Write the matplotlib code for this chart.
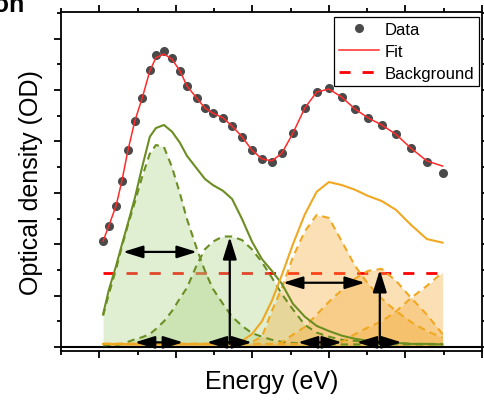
import matplotlib
matplotlib.use("Agg")
import matplotlib.pyplot as plt
from matplotlib.ticker import MultipleLocator, FixedLocator

plt.rcParams['font.family'] = ['Liberation Sans', 'DejaVu Sans']

# photon energy (eV) of each measured point
energy = [1.710, 1.725, 1.744, 1.759, 1.775, 1.793, 1.812, 1.832, 1.848, 1.869,
          1.890, 1.911, 1.929, 1.955, 1.976, 1.997, 2.023, 2.047, 2.073, 2.099,
          2.125, 2.151, 2.177, 2.206, 2.237, 2.268, 2.300, 2.334, 2.368, 2.402,
          2.438, 2.475, 2.514, 2.556, 2.597]

od_data = [0.206, 0.236, 0.275, 0.323, 0.383, 0.440, 0.484, 0.539, 0.568, 0.576,
           0.562, 0.537, 0.508, 0.484, 0.465, 0.455, 0.446, 0.430, 0.409, 0.383,
           0.366, 0.360, 0.377, 0.416, 0.465, 0.496, 0.504, 0.486, 0.463, 0.446,
           0.432, 0.414, 0.387, 0.360, 0.339]

od_fit = [0.206, 0.236, 0.275, 0.323, 0.383, 0.440, 0.484, 0.537, 0.563, 0.570,
          0.560, 0.537, 0.508, 0.484, 0.465, 0.455, 0.446, 0.430, 0.409, 0.383,
          0.366, 0.362, 0.377, 0.416, 0.465, 0.496, 0.502, 0.486, 0.463, 0.446,
          0.432, 0.414, 0.387, 0.362, 0.352]

background = 0.143

# green band: sum and two components
green_sum = [0.064, 0.111, 0.158, 0.199, 0.241, 0.290, 0.350, 0.409, 0.426, 0.432,
             0.419, 0.397, 0.372, 0.347, 0.327, 0.315, 0.304, 0.288, 0.249, 0.205,
             0.171, 0.148, 0.123, 0.084, 0.059, 0.041, 0.031, 0.022, 0.016, 0.012,
             0.010, 0.008, 0.006, 0.006, 0.005]
green_1 = [0.061, 0.103, 0.152, 0.195, 0.238, 0.282, 0.331, 0.376, 0.393, 0.389,
           0.350, 0.298, 0.249, 0.191, 0.148, 0.113, 0.084, 0.059, 0.041, 0.027,
           0.020, 0.014, 0.010, 0.008, 0.006, 0.005, 0.005, 0.005, 0.005, 0.005,
           0.005, 0.005, 0.005, 0.005, 0.005]
green_2 = [0.003, 0.004, 0.004, 0.006, 0.010, 0.015, 0.019, 0.025, 0.035, 0.050,
           0.070, 0.095, 0.115, 0.160, 0.190, 0.205, 0.215, 0.215, 0.208, 0.190,
           0.165, 0.135, 0.103, 0.073, 0.043, 0.028, 0.020, 0.014, 0.012, 0.010,
           0.008, 0.008, 0.006, 0.006, 0.006]

# orange band: sum and three components
orange_sum = [0.006, 0.006, 0.006, 0.006, 0.006, 0.006, 0.006, 0.006, 0.006, 0.006,
              0.006, 0.006, 0.006, 0.006, 0.006, 0.006, 0.006, 0.007, 0.012, 0.025,
              0.050, 0.090, 0.140, 0.200, 0.258, 0.302, 0.321, 0.315, 0.306, 0.294,
              0.284, 0.267, 0.238, 0.210, 0.203]
orange_1 = [0.006, 0.006, 0.006, 0.006, 0.006, 0.006, 0.006, 0.006, 0.006, 0.006,
            0.006, 0.006, 0.006, 0.006, 0.006, 0.006, 0.006, 0.006, 0.007, 0.010,
            0.020, 0.070, 0.115, 0.175, 0.225, 0.257, 0.251, 0.205, 0.158, 0.123,
            0.094, 0.070, 0.049, 0.031, 0.018]
orange_2 = [0.006, 0.006, 0.006, 0.006, 0.006, 0.006, 0.006, 0.006, 0.006, 0.006,
            0.006, 0.006, 0.006, 0.006, 0.006, 0.006, 0.006, 0.006, 0.006, 0.006,
            0.006, 0.006, 0.009, 0.024, 0.039, 0.063, 0.088, 0.111, 0.133, 0.148,
            0.152, 0.129, 0.096, 0.063, 0.025]
orange_3 = [0.006, 0.006, 0.006, 0.006, 0.006, 0.006, 0.006, 0.006, 0.006, 0.006,
            0.006, 0.006, 0.006, 0.006, 0.006, 0.006, 0.006, 0.006, 0.006, 0.006,
            0.006, 0.006, 0.006, 0.006, 0.006, 0.006, 0.006, 0.010, 0.025, 0.038,
            0.050, 0.069, 0.095, 0.119, 0.145]

# FWHM arrows (height, start, end), amplitude arrows (position, peak), shift arrows
fwhm_y = [0.185, 0.125]
fwhm_x0 = [1.762, 2.180]
fwhm_x1 = [1.955, 2.394]
amp_x = [2.041, 2.433]
amp_top = [0.214, 0.150]
shift_y = 0.009
shift_x0 = [1.793, 1.981, 2.219, 2.373]
shift_x1 = [1.919, 2.099, 2.334, 2.490]

green_line = '#6b8e23'
green_fill = '#a8cf7e'
orange_line = '#f0a822'
orange_fill = '#f5b041'

fig = plt.figure(figsize=(4.85, 4.02), dpi=100)
ax = fig.add_axes([61 / 485, 50 / 402, 421 / 485, 339 / 402])

ax.plot([energy[0], energy[-1]], [background, background], color='#ff0000',
        lw=2, ls=(0, (4, 4.3)), zorder=1, label='Background')

for comp in [green_1, green_2]:
    ax.fill_between(energy, 0, comp, color=green_fill, alpha=0.35, lw=0, zorder=2)
for comp in [orange_1, orange_2, orange_3]:
    ax.fill_between(energy, 0, comp, color=orange_fill, alpha=0.38, lw=0, zorder=2)

ax.axhline(0, color='k', lw=1.5, zorder=2.5)

dash = (0, (3.5, 2.5))
for comp in [green_1, green_2]:
    ax.plot(energy, comp, color=green_line, lw=1.5, ls=dash, zorder=3)
for comp in [orange_1, orange_2, orange_3]:
    ax.plot(energy, comp, color=orange_line, lw=1.5, ls=dash, zorder=3)
ax.plot(energy, green_sum, color=green_line, lw=1.5, zorder=3)
ax.plot(energy, orange_sum, color=orange_line, lw=1.5, zorder=3)

ax.plot(energy, od_data, 'o', color='#4a4a4a', ms=5.5, zorder=4, label='Data')
ax.plot(energy, od_fit, color='#ff2a2a', lw=1.1, zorder=4, label='Fit')

head2 = dict(arrowstyle='<|-|>,head_length=0.8,head_width=0.25', mutation_scale=15,
             color='k', lw=1.6, shrinkA=0, shrinkB=0)
head1 = dict(arrowstyle='-|>,head_length=0.9,head_width=0.28', mutation_scale=15,
             color='k', lw=1.6, shrinkA=0, shrinkB=0)
for y, a, b in zip(fwhm_y, fwhm_x0, fwhm_x1):
    ax.annotate('', xy=(b, y), xytext=(a, y), arrowprops=head2, zorder=5)
for a, b in zip(shift_x0, shift_x1):
    ax.annotate('', xy=(b, shift_y), xytext=(a, shift_y), arrowprops=head2, zorder=5)
for x, top in zip(amp_x, amp_top):
    ax.annotate('', xy=(x, top), xytext=(x, 0.006), arrowprops=head1, zorder=5)

ax.set_xlim(1.6, 2.7)
ax.set_ylim(-0.0078, 0.6518)
ax.xaxis.set_major_locator(FixedLocator([1.7, 1.9, 2.1, 2.3, 2.5, 2.7]))
ax.xaxis.set_minor_locator(FixedLocator([1.6, 1.8, 2.0, 2.2, 2.4, 2.6]))
ax.yaxis.set_major_locator(MultipleLocator(0.1))
ax.yaxis.set_minor_locator(MultipleLocator(0.05))
ax.tick_params(which='both', direction='out', top=True, right=True, width=1.3,
               labelbottom=False, labelleft=False)
ax.tick_params(which='major', length=5)
ax.tick_params(which='minor', length=3)
for s in ax.spines.values():
    s.set_linewidth(1.3)

ax.set_xlabel('Energy (eV)', fontsize=18, labelpad=8)
ax.set_ylabel('Optical density (OD)', fontsize=18, labelpad=8)

h, l = ax.get_legend_handles_labels()
order = [l.index('Data'), l.index('Fit'), l.index('Background')]
leg = ax.legend([h[i] for i in order], [l[i] for i in order], loc='upper right',
                bbox_to_anchor=(0.993, 0.985), borderaxespad=0, fontsize=12,
                fancybox=False, framealpha=1, edgecolor='k', borderpad=0.3,
                handlelength=2.4, handletextpad=0.3, labelspacing=0.42)
leg.get_frame().set_linewidth(0.9)
leg.set_zorder(10)

fig.text(25 / 485, 1 - 12 / 402, 'Absorption', ha='right', va='baseline',
         fontsize=18, weight='bold')

fig.savefig('out.png', dpi=100)
